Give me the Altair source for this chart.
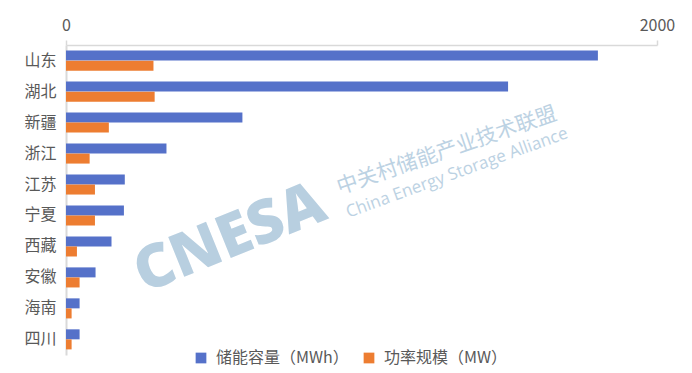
import altair as alt
import pandas as pd

provinces = ["山东", "湖北", "新疆", "浙江", "江苏", "宁夏", "西藏", "安徽", "海南", "四川"]
capacity_mwh = [1800, 1496, 597, 340, 199, 196, 154, 100, 46, 46]
power_mw = [296, 300, 145, 80, 98, 98, 37, 46, 19, 19]
series_names = ["储能容量（MWh）", "功率规模（MW）"]
series_colors = ["#5571C9", "#ED7D31"]
x_ticks = [0, 2000]

rows = []
for p, c, w in zip(provinces, capacity_mwh, power_mw):
    rows.append({"province": p, "series": series_names[0], "value": c})
    rows.append({"province": p, "series": series_names[1], "value": w})
df = pd.DataFrame(rows)

font = "Noto Sans CJK SC"
label_color = "#595959"
axis_color = "#D9D9D9"

bars = alt.Chart(df).mark_bar(size=10).encode(
    x=alt.X("value:Q",
            scale=alt.Scale(domain=[0, 2000], nice=False),
            axis=alt.Axis(orient="top", values=x_ticks, format="d", title=None, grid=False,
                          labelFontSize=16, labelColor=label_color, labelFont=font,
                          domainColor=axis_color, domainWidth=1.5,
                          tickColor=axis_color, tickWidth=1.5, tickSize=5,
                          labelPadding=7, labelFlush=False)),
    y=alt.Y("province:N", sort=provinces,
            scale=alt.Scale(paddingInner=0.35, paddingOuter=0.18),
            axis=alt.Axis(title=None, ticks=False, labelFontSize=16,
                          labelColor=label_color, labelFont=font,
                          domainColor=axis_color, domainWidth=2, labelPadding=10)),
    yOffset=alt.YOffset("series:N", sort=series_names),
    color=alt.Color("series:N", sort=series_names,
                    scale=alt.Scale(domain=series_names, range=series_colors),
                    legend=alt.Legend(orient="none", legendX=127, legendY=305,
                                      direction="horizontal", title=None,
                                      symbolType="square", symbolSize=115,
                                      symbolStrokeWidth=0,
                                      labelFontSize=16, labelColor=label_color,
                                      labelFont=font, columnPadding=12,
                                      labelOffset=7, padding=0)),
)

wm = pd.DataFrame({"t": ["CNESA"]})
wm_cn = pd.DataFrame({"t": ["中关村储能产业技术联盟"]})
wm_en = pd.DataFrame({"t": ["China Energy Storage Alliance"]})

cnesa = alt.Chart(wm).mark_text(
    font="Open Sans", fontWeight=800, fontSize=60, color="#B8CFE0",
    angle=338, align="center", baseline="middle"
).encode(text="t:N", x=alt.value(164), y=alt.value(194))

cn = alt.Chart(wm_cn).mark_text(
    font=font, fontSize=21, color="#BCD2E3",
    angle=341, align="center", baseline="middle"
).encode(text="t:N", x=alt.value(381), y=alt.value(106))

en = alt.Chart(wm_en).mark_text(
    font="Open Sans", fontSize=17, color="#BCD2E3",
    angle=340, align="center", baseline="middle"
).encode(text="t:N", x=alt.value(391), y=alt.value(128))

chart = alt.layer(cnesa, cn, en, bars).properties(
    width=591, height=310,
    autosize=alt.AutoSizeParams(type="none"),
    padding={"left": 66, "top": 45, "right": 35, "bottom": 18},
).configure(background="white").configure_view(stroke=None, strokeWidth=0)

chart.save("out.html", embed_options={"renderer": "svg", "actions": False})
